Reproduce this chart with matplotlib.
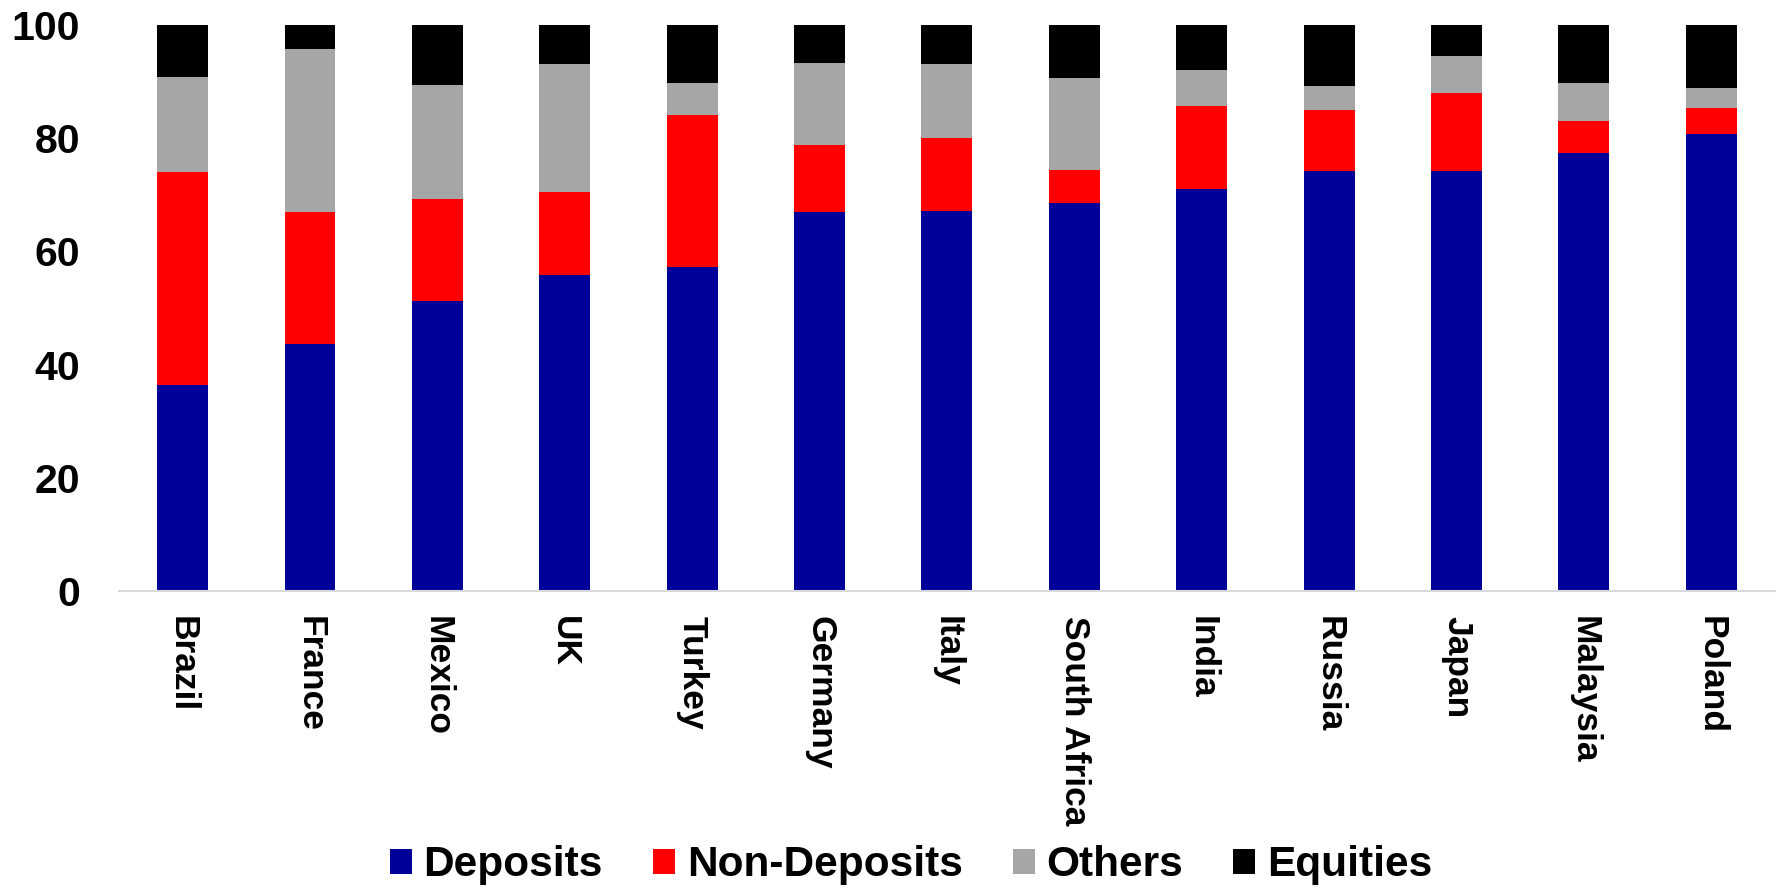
import matplotlib
matplotlib.use("Agg")
from matplotlib import pyplot as plt
import numpy as np

plt.rcParams["font.family"] = ["Liberation Sans", "DejaVu Sans"]
plt.rcParams["font.weight"] = "bold"

countries = ["Brazil", "France", "Mexico", "UK", "Turkey", "Germany", "Italy",
             "South Africa", "India", "Russia", "Japan", "Malaysia", "Poland"]
deposits = [36.4, 43.7, 51.3, 55.9, 57.2, 66.9, 67.2, 68.5, 71.0, 74.2, 74.2, 77.4, 80.8]
non_deposits = [37.6, 23.3, 17.9, 14.6, 26.9, 11.9, 12.9, 5.9, 14.7, 10.8, 13.7, 5.7, 4.6]
others = [16.8, 28.7, 20.2, 22.5, 5.7, 14.4, 12.9, 16.2, 6.3, 4.2, 6.6, 6.6, 3.5]
equities = [9.2, 4.3, 10.6, 7.0, 10.2, 6.8, 7.0, 9.4, 8.0, 10.8, 5.5, 10.3, 11.1]

series = [
    ("Deposits", deposits, "#000099"),
    ("Non-Deposits", non_deposits, "#ff0000"),
    ("Others", others, "#a6a6a6"),
    ("Equities", equities, "#000000"),
]

fig = plt.figure(figsize=(17.83, 8.88), dpi=100)
ax = fig.add_axes([0.0667, 0.3345, 0.9288, 0.6375])

x = np.arange(len(countries))
bottom = np.zeros(len(countries))
for name, vals, color in series:
    ax.bar(x, vals, width=0.4, bottom=bottom, color=color, label=name,
           edgecolor="none")
    bottom += np.array(vals)

ax.set_xlim(-0.5, len(countries) - 0.5)
ax.set_ylim(0, 100)
ax.set_yticks([0, 20, 40, 60, 80, 100])
ax.tick_params(axis="y", length=0, labelsize=29.5, pad=28)
ax.set_xticks(x)
ax.set_xticklabels(countries, rotation=-90, fontsize=25.5, fontweight="bold",
                   va="top", ha="center")
ax.tick_params(axis="x", length=0, pad=18)
for lbl in ax.get_yticklabels():
    lbl.set_fontweight("bold")

for side in ["top", "right", "left"]:
    ax.spines[side].set_visible(False)
ax.spines["bottom"].set_color("#d9d9d9")
ax.spines["bottom"].set_linewidth(1.5)

fig.legend(loc="lower center", bbox_to_anchor=(0.511, -0.04), ncol=4,
           frameon=False, handlelength=0.52, handleheight=0.52,
           handletextpad=0.28, columnspacing=1.18,
           prop={"weight": "bold", "size": 30.5})

fig.savefig("out.png", dpi=100)
